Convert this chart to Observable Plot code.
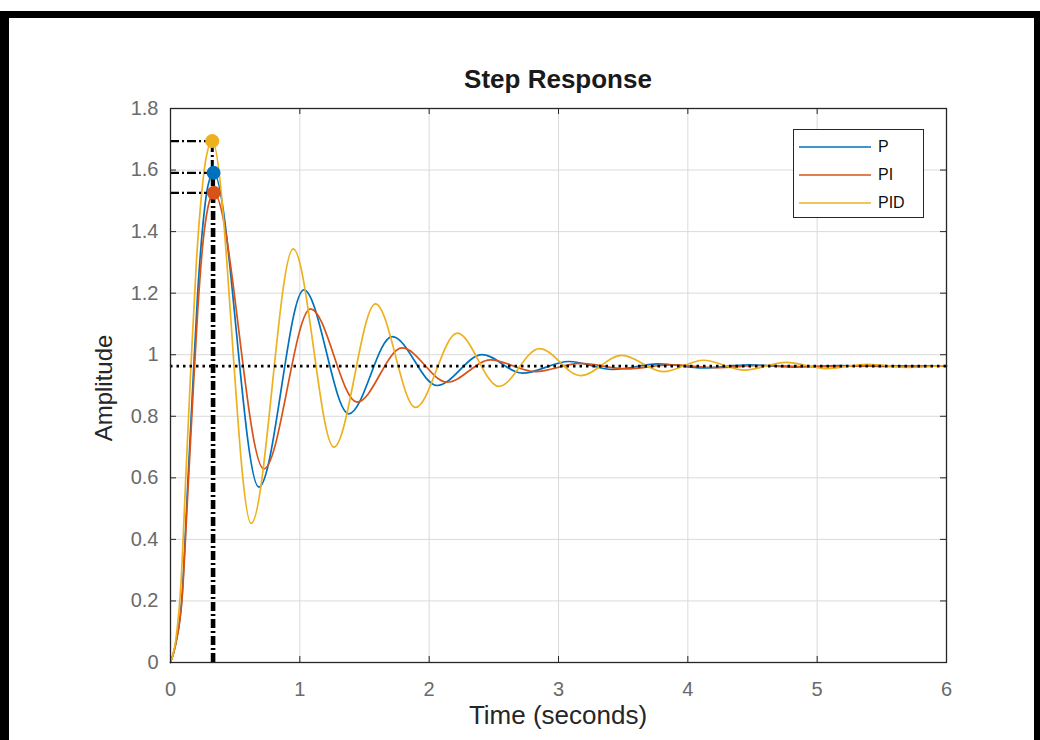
<!DOCTYPE html>
<html>
<head>
<meta charset="utf-8">
<script src="https://cdn.jsdelivr.net/npm/d3@7"></script>
<script src="https://cdn.jsdelivr.net/npm/@observablehq/plot@0.6"></script>
<style>
  html, body { margin: 0; padding: 0; background: #fff; }
  #wrap { position: relative; width: 1040px; height: 740px; overflow: hidden; background: #fff;
          font-family: "Liberation Sans", Arial, Helvetica, sans-serif; }
  #chart { position: absolute; left: 0; top: 0; }
  .frameTop { position: absolute; left: 0; top: 11px; width: 1040px; height: 7px; background: #000; }
  .frameLeft { position: absolute; left: 0; top: 11px; width: 9px; height: 729px; background: #000; }
  .frameRight { position: absolute; left: 1034px; top: 11px; width: 6px; height: 729px; background: #000; }
  #title { position: absolute; left: 0; width: 1116px; top: 64px; text-align: center; font-weight: bold;
           font-size: 26px; color: #1a1a1a; }
  #xlabel { position: absolute; left: 0; width: 1116px; top: 700px; text-align: center; font-size: 26px; color: #262626; }
  #ylabel { position: absolute; left: 104px; top: 388px; transform: translate(-50%, -50%) rotate(-90deg);
            font-size: 24px; color: #262626; white-space: nowrap; }
  #legend { position: absolute; left: 793px; top: 129px; width: 129px; height: 87px; border: 1.5px solid #262626;
            background: #fff; }
  .lrow { position: absolute; left: 0; height: 20px; width: 129px; }
  .lrow svg { position: absolute; left: 5px; top: 0; }
  .lrow span { position: absolute; left: 84px; top: 0; font-size: 16px; line-height: 20px; color: #111; }
</style>
</head>
<body>
<div id="wrap">
  <div id="chart"></div>
  <div id="title">Step Response</div>
  <div id="xlabel">Time (seconds)</div>
  <div id="ylabel">Amplitude</div>
  <div id="legend"></div>
  <div class="frameTop"></div>
  <div class="frameLeft"></div>
  <div class="frameRight"></div>
</div>
<script>
// ---- data ----
const seriesNames = ["P", "PI", "PID"];
const seriesColors = ["#0072BD", "#D95319", "#EDB120"];

const xTicks = [0, 1, 2, 3, 4, 5, 6];
const yTicks = [0, 0.2, 0.4, 0.6, 0.8, 1, 1.2, 1.4, 1.6, 1.8];

// P controller
const tP = [0, 0.04, 0.09, 0.13, 0.17, 0.21, 0.25, 0.29, 0.333, 0.683, 1.031, 1.379, 1.714, 2.062, 2.41, 2.72, 3.08, 3.42, 3.77, 4.12, 4.47, 4.82, 5.17, 5.52, 6.0];
const vP = [0, 0.06, 0.22, 0.55, 0.88, 1.2, 1.42, 1.55, 1.591, 0.570, 1.211, 0.808, 1.059, 0.900, 1.0, 0.94, 0.978, 0.952, 0.970, 0.957, 0.967, 0.960, 0.965, 0.962, 0.963];

// PI controller
const tPI = [0, 0.04, 0.09, 0.13, 0.17, 0.21, 0.25, 0.29, 0.335, 0.722, 1.083, 1.443, 1.791, 2.139, 2.474, 2.82, 3.17, 3.52, 3.87, 4.22, 4.57, 4.95, 5.4, 6.0];
const vPI = [0, 0.06, 0.21, 0.52, 0.84, 1.14, 1.36, 1.48, 1.526, 0.629, 1.149, 0.846, 1.022, 0.911, 0.983, 0.945, 0.972, 0.954, 0.967, 0.958, 0.965, 0.961, 0.964, 0.963];

// PID controller
const tPID = [0, 0.04, 0.08, 0.12, 0.16, 0.2, 0.24, 0.28, 0.323, 0.624, 0.949, 1.263, 1.585, 1.894, 2.217, 2.539, 2.852, 3.17, 3.49, 3.81, 4.12, 4.44, 4.76, 5.07, 5.39, 5.71, 6.0];
const vPID = [0, 0.07, 0.25, 0.62, 0.98, 1.3, 1.52, 1.65, 1.694, 0.452, 1.344, 0.70, 1.165, 0.829, 1.07, 0.897, 1.02, 0.932, 0.998, 0.945, 0.982, 0.950, 0.975, 0.955, 0.969, 0.959, 0.965];

// peak markers (time, amplitude)
const peakT = [0.333, 0.335, 0.323];
const peakV = [1.591, 1.526, 1.694];

// steady-state value
const steadyValue = [0.963];

// ---- build tables ----
const curves = [];
[[tP, vP], [tPI, vPI], [tPID, vPID]].forEach(([ts, vs], i) => {
  ts.forEach((t, j) => curves.push({ name: seriesNames[i], t, v: vs[j] }));
});
const peaks = seriesNames.map((name, i) => ({ name, t: peakT[i], v: peakV[i] }));
const fmt = d => String(+d.toFixed(1));

const plotH = 740 - 108 - 78;
const plotW = 1040 - 170 - 94;

const chart = Plot.plot({
  width: 1040,
  height: 740,
  marginLeft: 170,
  marginRight: 94,
  marginTop: 108,
  marginBottom: 78,
  style: { fontFamily: '"Liberation Sans", Arial, sans-serif', background: "transparent" },
  x: { domain: [0, 6], ticks: xTicks },
  y: { domain: [0, 1.8], ticks: yTicks },
  color: { domain: seriesNames, range: seriesColors },
  marks: [
    Plot.gridX(xTicks, { stroke: "#dadada", strokeOpacity: 1, strokeWidth: 1 }),
    Plot.gridY(yTicks, { stroke: "#dadada", strokeOpacity: 1, strokeWidth: 1 }),
    Plot.line(curves, { x: "t", y: "v", z: "name", stroke: "name", curve: "monotone-x", strokeWidth: 1.7 }),
    Plot.ruleY(steadyValue, { stroke: "#000", strokeWidth: 2.8, strokeDasharray: "2.5,4" }),
    Plot.ruleX(peaks, { x: "t", y1: 0, y2: "v", stroke: "#000", strokeWidth: 3, strokeDasharray: "9,3,2,3" }),
    Plot.ruleY(peaks, { y: "v", x1: 0, x2: "t", stroke: "#000", strokeWidth: 2.2, strokeDasharray: "9,3,2,3" }),
    Plot.dot(peaks, { x: "t", y: "v", fill: "name", r: 7 }),
    Plot.frame({ stroke: "#262626", strokeWidth: 1.3 }),
    // inward tick marks on all four sides
    Plot.ruleX(xTicks, { stroke: "#262626", insetTop: plotH - 6 }),
    Plot.ruleX(xTicks, { stroke: "#262626", insetBottom: plotH - 6 }),
    Plot.ruleY(yTicks, { stroke: "#262626", insetRight: plotW - 6 }),
    Plot.ruleY(yTicks, { stroke: "#262626", insetLeft: plotW - 6 }),
    Plot.axisX(xTicks, { tickSize: 0, tickPadding: 19, fontSize: 20, color: "#6a6a6a", label: null, tickFormat: fmt }),
    Plot.axisY(yTicks, { tickSize: 0, tickPadding: 12, fontSize: 20, color: "#6a6a6a", label: null, tickFormat: fmt })
  ]
});
document.getElementById("chart").appendChild(chart);

// legend
const legend = document.getElementById("legend");
const rowTops = [7, 35, 63];
seriesNames.forEach((name, i) => {
  const row = document.createElement("div");
  row.className = "lrow";
  row.style.top = rowTops[i] + "px";
  row.innerHTML = `<svg width="74" height="20"><line x1="0" x2="72" y1="10" y2="10" stroke="${seriesColors[i]}" stroke-opacity="0.75" stroke-width="2"/></svg><span>${name}</span>`;
  legend.appendChild(row);
});
</script>
</body>
</html>
